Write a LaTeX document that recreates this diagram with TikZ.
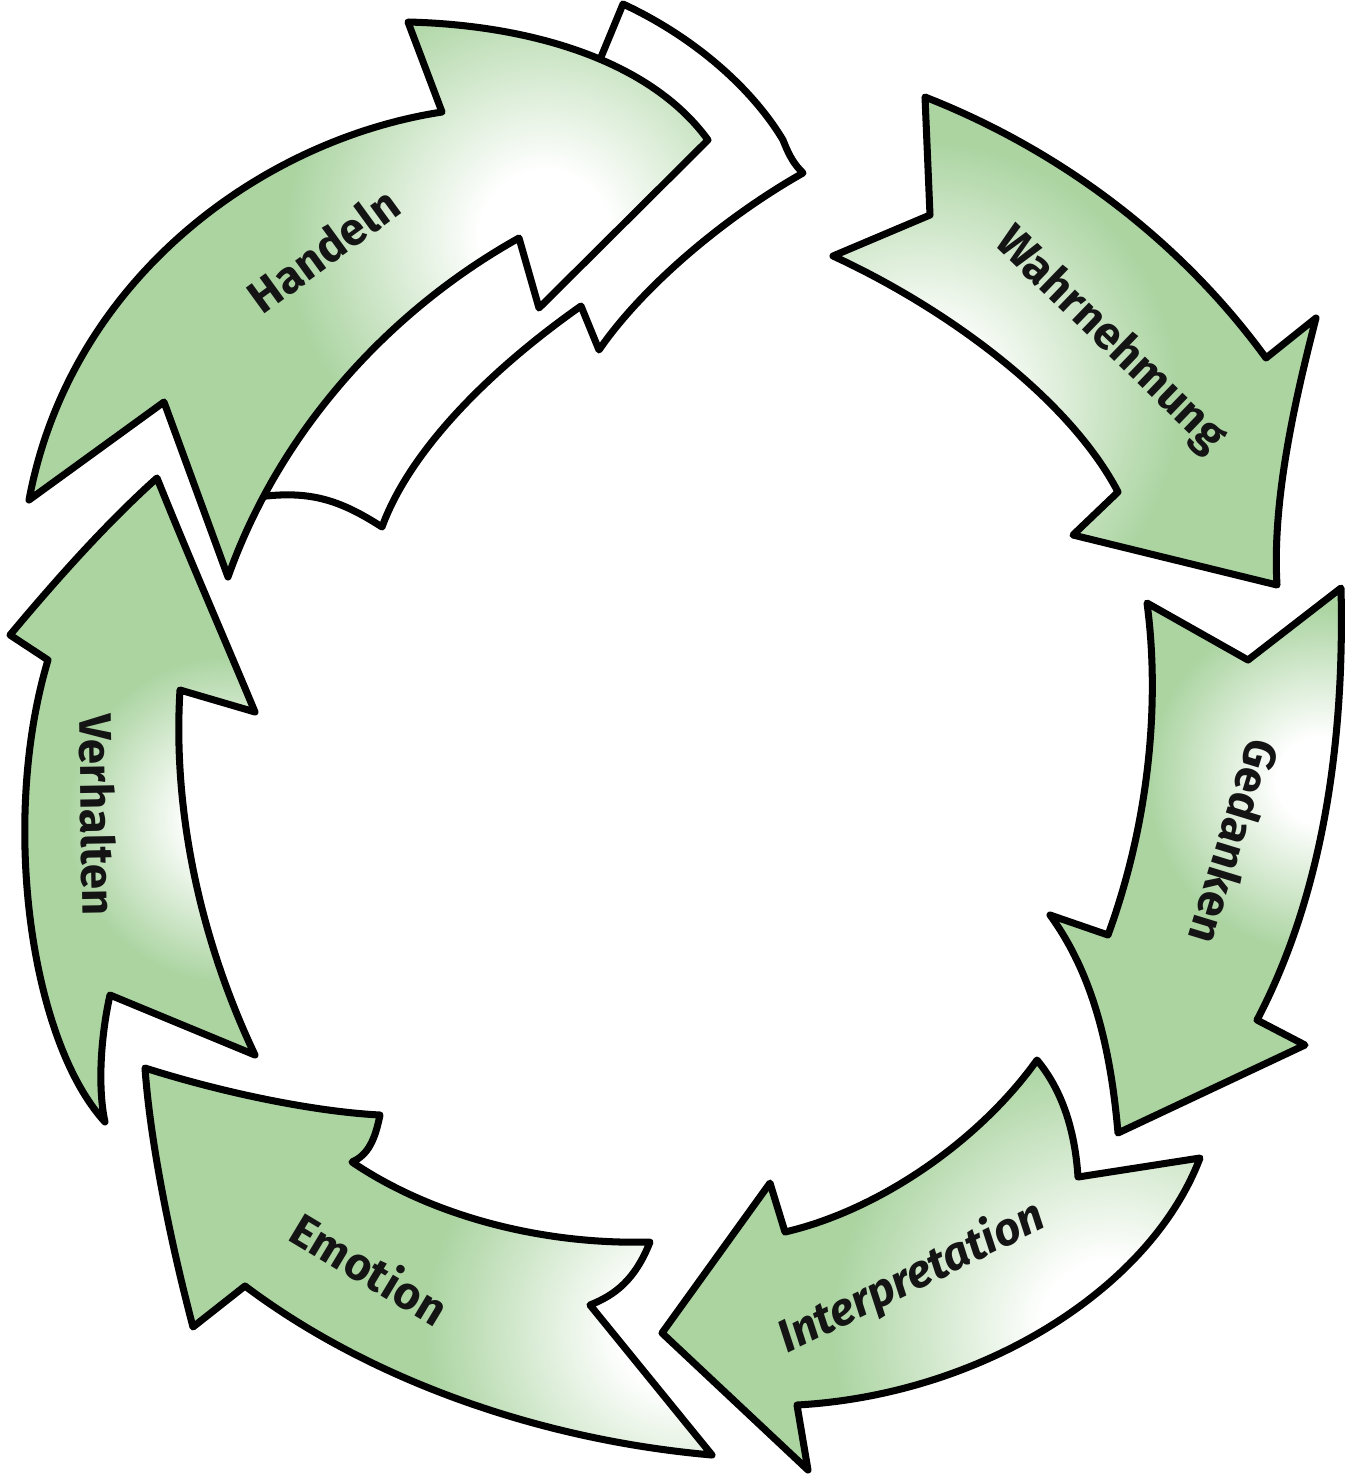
\documentclass[tikz,border=0pt]{standalone}
\usepackage{fontspec}
\setmainfont{Fira Sans}
\usetikzlibrary{calc}
\definecolor{leaf}{RGB}{171,212,161}
\definecolor{ink}{RGB}{20,20,20}
\pgfdeclareradialshading{glow}{\pgfpoint{0bp}{0bp}}{color(0bp)=(white); color(3bp)=(white); color(12bp)=(leaf); color(50bp)=(leaf)}
\tikzset{
  blade/.style n args={2}{draw=black,fill=leaf,line width=2pt,line join=round,
    path picture={\shade[shading=glow] (#1) circle (#2);}},
  hollow/.style={draw=black,line width=2pt,line join=round,fill=white},
  word/.style={font=\fontsize{13}{15}\selectfont\bfseries,text=ink,inner sep=0pt},
}

\begin{document}
\begin{tikzpicture}[x=0.01cm,y=-0.01cm]
  \useasboundingbox (0,0) rectangle (1356,1481);
  % white arrow behind Handeln
  \draw[hollow] (599,62) -- (623,4) .. controls (690,35) and (750,85) .. (783,140)
    .. controls (790,158) and (795,165) .. (803,173)
    .. controls (720,220) and (640,290) .. (599,350) -- (581,306)
    .. controls (490,370) and (410,450) .. (382,527)
    .. controls (340,500) and (310,490) .. (258,497)
    -- (230,470) -- (300,350) -- (440,230) -- (560,150) -- cycle;
  % Handeln
  \draw[blade={545,235}{540}] (408,22) -- (442,112)
    .. controls (260,140) and (70,280) .. (29,500) -- (164,402) -- (228,577)
    .. controls (280,430) and (390,310) .. (519,238) -- (539,308) -- (708,140)
    .. controls (650,60) and (530,25) .. (408,22) -- cycle;
  % Wahrnehmung
  \draw[blade={920,400}{540}] (925,97) -- (930,215) -- (833,256)
    .. controls (950,310) and (1070,400) .. (1118,492) -- (1073,535) -- (1277,585)
    .. controls (1272,500) and (1295,400) .. (1316,318) -- (1266,358)
    .. controls (1180,240) and (1060,150) .. (925,97) -- cycle;
  % Gedanken
  \draw[blade={1320,780}{360}] (1147,603) -- (1248,660) -- (1341,588)
    .. controls (1345,750) and (1320,900) .. (1257,1020) -- (1305,1045) -- (1118,1133)
    .. controls (1110,1040) and (1090,970) .. (1050,915) -- (1108,935)
    .. controls (1150,820) and (1160,700) .. (1147,603) -- cycle;
  % Interpretation
  \draw[blade={1110,1330}{580}] (662,1333) -- (770,1183) -- (785,1232)
    .. controls (880,1210) and (980,1140) .. (1037,1060)
    .. controls (1062,1090) and (1075,1130) .. (1078,1177) -- (1200,1158)
    .. controls (1150,1290) and (980,1395) .. (797,1405) -- (808,1470) -- cycle;
  % Emotion
  \draw[blade={700,1330}{520}] (145,1068) .. controls (230,1095) and (320,1112) .. (380,1115)
    .. controls (375,1140) and (368,1155) .. (352,1162)
    .. controls (430,1215) and (540,1245) .. (650,1242)
    .. controls (635,1280) and (615,1295) .. (590,1305) -- (712,1455)
    .. controls (540,1440) and (370,1380) .. (245,1286) -- (193,1327)
    .. controls (170,1240) and (150,1140) .. (145,1068) -- cycle;
  % Verhalten
  \draw[blade={230,820}{340}] (157,478) .. controls (190,560) and (225,640) .. (255,712)
    -- (180,690) .. controls (172,820) and (205,950) .. (255,1055) -- (110,995)
    .. controls (100,1040) and (98,1090) .. (105,1122)
    .. controls (30,1040) and (0,820) .. (48,660) -- (10,635)
    .. controls (60,575) and (110,520) .. (157,478) -- cycle;
  % labels
  \node[word,rotate=36] (handeln) at (323,250) {Handeln};
  \node[word,rotate=-44] (wahrnehmung) at (1110,340) {Wahrnehmung};
  \node[word,rotate=-107] (gedanken) at (1235,842) {Gedanken};
  \node[word,rotate=26] (interpretation) at (912,1278) {\itshape Interpretation};
  \node[word,rotate=-31] (emotion) at (370,1268) {Emotion};
  \node[word,rotate=-89] (verhalten) at (98,815) {Verhalten};
\end{tikzpicture}
\end{document}
